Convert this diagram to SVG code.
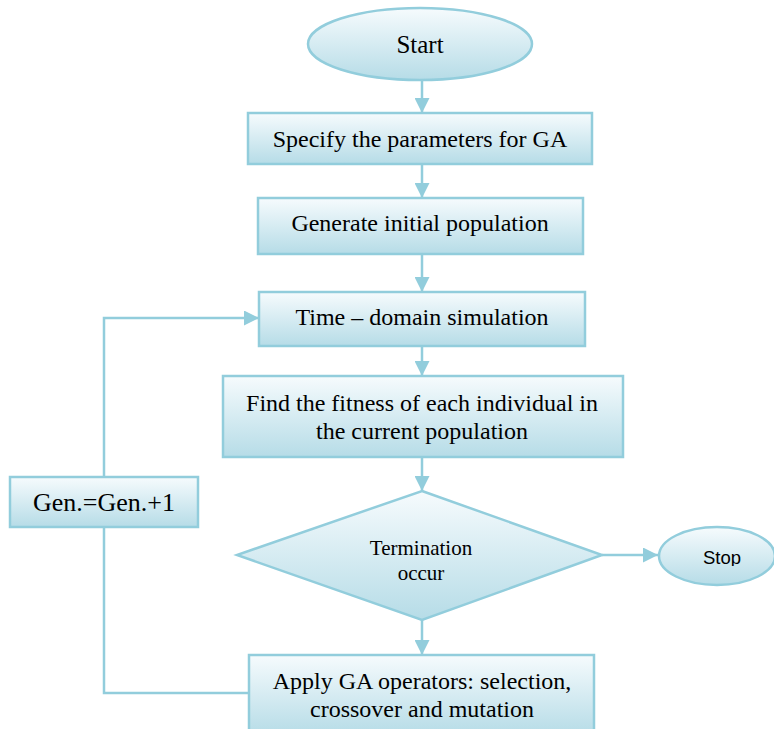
<svg xmlns="http://www.w3.org/2000/svg" width="774" height="729" viewBox="0 0 774 729">
<defs>
<linearGradient id="g" x1="0" y1="0" x2="0" y2="1">
<stop offset="0" stop-color="#f6fbfd"/>
<stop offset="1" stop-color="#b6dce7"/>
</linearGradient>
<marker id="ah" viewBox="0 0 10 10" refX="10" refY="5" markerWidth="6" markerHeight="6" markerUnits="strokeWidth" orient="auto">
<path d="M0,0 L10,5 L0,10 Z" fill="#92cddc"/>
</marker>
<clipPath id="stopclip"><rect x="0" y="0" width="774" height="566"/></clipPath>
</defs>
<style>
.n{fill:url(#g);stroke:#92cddc;stroke-width:2.5}
.c{fill:none;stroke:#92cddc;stroke-width:2.5}
.a{marker-end:url(#ah)}
.t{font-family:"Liberation Serif","Times New Roman",serif;font-size:24px;fill:#000;text-anchor:middle}
.s{font-family:"Liberation Sans",Arial,sans-serif;font-size:18.5px;fill:#000;text-anchor:middle}
</style>
<rect width="774" height="729" fill="#fff"/>
<g id="connectors">
<line class="c a" x1="422" y1="80" x2="422" y2="113"/>
<line class="c a" x1="422" y1="164" x2="422" y2="198"/>
<line class="c a" x1="422" y1="254" x2="422" y2="292"/>
<line class="c a" x1="422" y1="346" x2="422" y2="376"/>
<line class="c a" x1="422" y1="457" x2="422" y2="491"/>
<line class="c a" x1="602" y1="555" x2="658" y2="555"/>
<line class="c a" x1="422" y1="620" x2="422" y2="655"/>
<polyline class="c" points="249,693 104,693 104,527"/>
<polyline class="c a" points="104,477 104,318 259,318"/>
</g>
<g id="start">
<ellipse class="n" cx="420" cy="44" rx="112" ry="36"/>
<text class="t" x="420" y="53" style="font-size:25px">Start</text>
</g>
<g id="specify">
<rect class="n" x="248" y="113" width="344" height="51"/>
<text class="t" x="420" y="147">Specify the parameters for GA</text>
</g>
<g id="generate">
<rect class="n" x="258" y="198" width="325" height="56"/>
<text class="t" x="420" y="231">Generate initial population</text>
</g>
<g id="timedomain">
<rect class="n" x="259" y="292" width="326" height="54"/>
<text class="t" x="422" y="325">Time – domain simulation</text>
</g>
<g id="fitness">
<rect class="n" x="223" y="376" width="400" height="81"/>
<text class="t" x="422" y="411">Find the fitness of each individual in</text>
<text class="t" x="422" y="439">the current population</text>
</g>
<g id="termination">
<polygon class="n" points="422,491 602,555 422,620 237,555"/>
<text class="t" x="421" y="555" style="font-size:21px">Termination</text>
<text class="t" x="421" y="580" style="font-size:21px">occur</text>
</g>
<g id="stop">
<ellipse class="n" cx="717" cy="556" rx="58" ry="29"/>
<text class="s" x="722" y="564" clip-path="url(#stopclip)">Stop</text>
</g>
<g id="apply">
<rect class="n" x="249" y="655" width="345" height="80"/>
<text class="t" x="422" y="689">Apply GA operators: selection,</text>
<text class="t" x="422" y="717">crossover and mutation</text>
</g>
<g id="gen">
<rect class="n" x="10" y="477" width="188" height="50"/>
<text class="t" x="104" y="511" style="font-size:26px">Gen.=Gen.+1</text>
</g>
</svg>
